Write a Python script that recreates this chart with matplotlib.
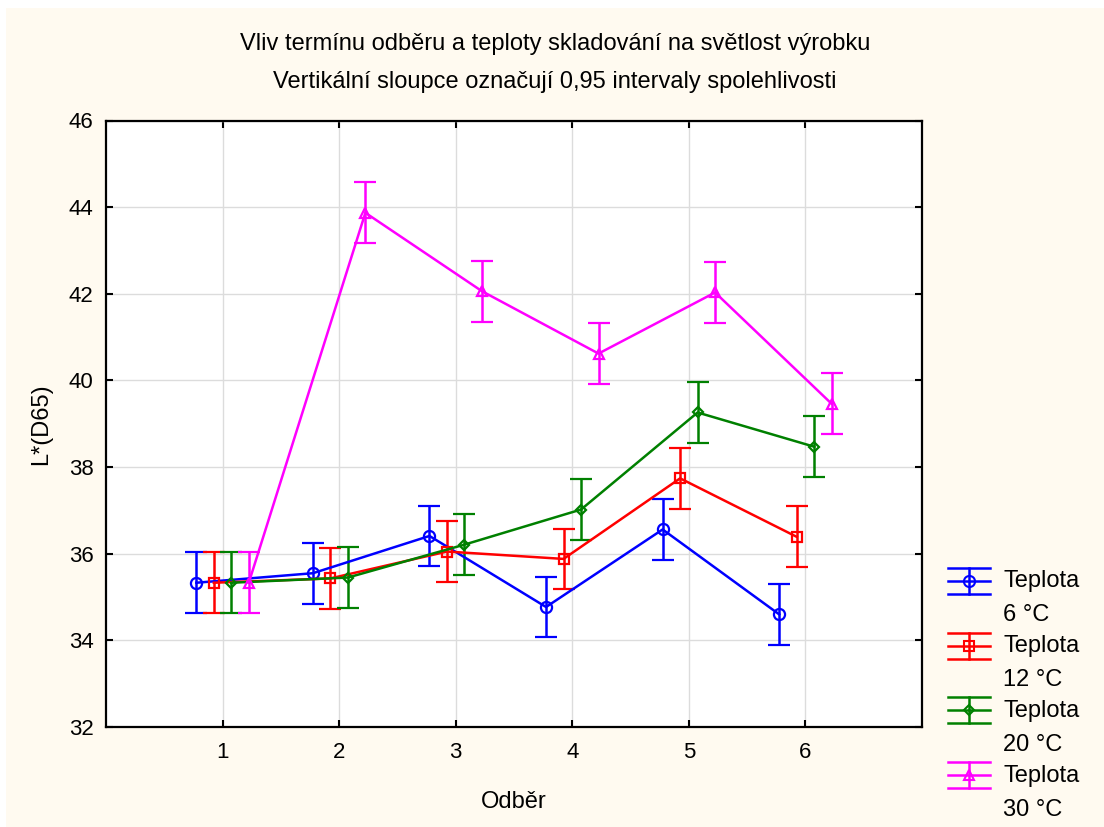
import matplotlib
matplotlib.use("Agg")
import matplotlib.pyplot as plt
from matplotlib.lines import Line2D
from matplotlib.patches import Rectangle
from matplotlib.legend_handler import HandlerBase
import numpy as np

plt.rcParams["font.family"] = ["Liberation Sans", "DejaVu Sans"]

# Odběr (sampling term) and mean L*(D65) per storage temperature
odber = [1, 2, 3, 4, 5, 6]
teplota_6 = [35.33, 35.55, 36.41, 34.77, 36.56, 34.60]
teplota_12 = [35.33, 35.43, 36.05, 35.88, 37.74, 36.39]
teplota_20 = [35.33, 35.45, 36.21, 37.02, 39.26, 38.47]
teplota_30 = [35.33, 43.87, 42.06, 40.62, 42.03, 39.46]
ci_half = 0.70  # half-width of the 0.95 confidence interval

labels = ["Teplota\n6 °C", "Teplota\n12 °C", "Teplota\n20 °C", "Teplota\n30 °C"]
colors = ["#0000ff", "#ff0000", "#008000", "#ff00ff"]
markers = ["o", "s", "D", "^"]
msizes = [8, 7.5, 5.5, 7.5]

CREAM = "#fffaf0"
FS_TICK = 16
FS_TEXT = 17
LW = 1.8


class ErrHandler(HandlerBase):
    """Legend key: horizontal bar with full-width caps, as in the original."""

    def create_artists(self, legend, orig_handle, xdescent, ydescent,
                       width, height, fontsize, trans):
        c = orig_handle.get_color()
        x0, x1 = -xdescent, -xdescent + width
        xm = (x0 + x1) / 2
        yc = -ydescent + height / 2 + 0.74 * fontsize
        h = 0.55 * fontsize
        arts = [Line2D([x0, x1], [y, y], color=c, lw=LW) for y in (yc - h, yc, yc + h)]
        arts.append(Line2D([xm, xm], [yc - h, yc + h], color=c, lw=LW))
        arts.append(Line2D([xm], [yc], marker=orig_handle.get_marker(), ms=orig_handle.get_markersize(),
                           mfc="none", mec=c, mew=1.5))
        for a in arts:
            a.set_transform(trans)
        return arts


fig = plt.figure(figsize=(11.04, 8.27), dpi=100, facecolor="white")
fig.patches.append(Rectangle((6 / 1104, 0), 1, 1 - 8 / 827, transform=fig.transFigure,
                             facecolor=CREAM, edgecolor="none", zorder=-10))
ax = fig.add_axes([106 / 1104, 1 - 727 / 827, 816 / 1104, 606.5 / 827])
ax.set_facecolor("white")

series = [teplota_6, teplota_12, teplota_20, teplota_30]
x = np.array(odber, dtype=float)
proxies = []
for i, vals in enumerate(series):
    xs = x + (i - 1.5) * 0.15
    ax.errorbar(xs, vals, yerr=ci_half, color=colors[i], lw=LW, elinewidth=LW,
                capsize=8, capthick=LW, marker=markers[i], ms=msizes[i],
                mfc="none", mec=colors[i], mew=1.6, zorder=3)
    proxies.append(Line2D([], [], color=colors[i], marker=markers[i], ms=msizes[i]))

ax.set_xlim(0, 7)
ax.set_ylim(32, 46)
ax.set_xticks(odber)
ax.set_yticks(range(32, 47, 2))
ax.grid(True, color="#dcdcdc", lw=1)
ax.set_axisbelow(True)
for s in ax.spines.values():
    s.set_linewidth(1.6)
ax.tick_params(direction="in", length=5, width=1.5, top=True, right=True,
               labelsize=FS_TICK, labeltop=False, labelright=False)
ax.tick_params(axis="y", pad=9)
ax.tick_params(axis="x", pad=11)

ax.set_xlabel("Odběr", fontsize=FS_TEXT)
ax.xaxis.set_label_coords(0.5, -0.105)
ax.set_ylabel("L*(D65)", fontsize=FS_TEXT)
ax.yaxis.set_label_coords(-0.066, 0.5)

fig.text(555 / 1104, 1 - 44 / 827, "Vliv termínu odběru a teploty skladování na světlost výrobku",
         ha="center", va="center", fontsize=FS_TEXT)
fig.text(555 / 1104, 1 - 82 / 827, "Vertikální sloupce označují 0,95 intervaly spolehlivosti",
         ha="center", va="center", fontsize=FS_TEXT)

leg = fig.legend(proxies, labels, loc="upper left", bbox_to_anchor=(948 / 1104, 1 - 570 / 827),
                 frameon=False, fontsize=FS_TEXT, handlelength=1.78, handletextpad=0.55,
                 labelspacing=0.38, borderpad=0, borderaxespad=0,
                 handler_map={Line2D: ErrHandler()})
for t in leg.get_texts():
    t.set_linespacing(1.7)

fig.savefig("out.png", dpi=100, facecolor=fig.get_facecolor())
